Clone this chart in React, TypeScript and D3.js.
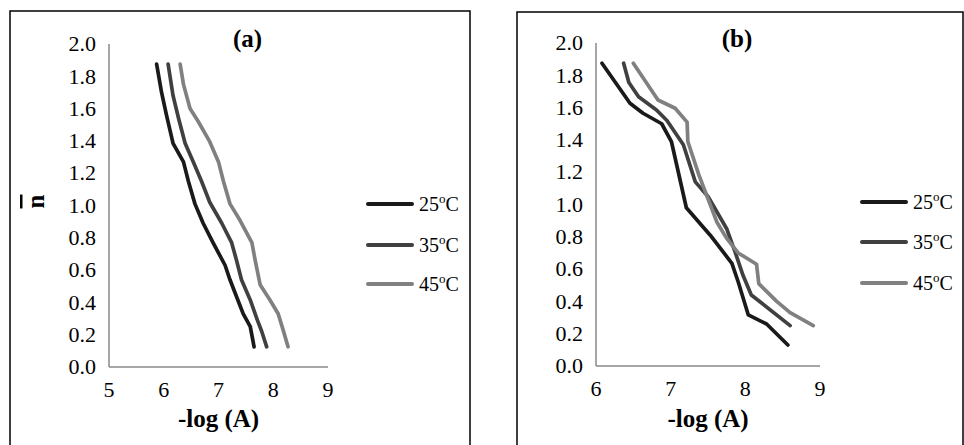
import React from "react";
import * as d3 from "d3";

const seriesNames = ["25", "35", "45"];
const seriesColors = ["#1a1a1a", "#404040", "#808080"];

const a25: [number, number][] = [[5.87,1.875],[5.96,1.70],[6.05,1.56],[6.17,1.385],[6.36,1.27],[6.45,1.15],[6.57,1.01],[6.72,0.89],[6.90,0.77],[7.12,0.63],[7.21,0.54],[7.33,0.435],[7.45,0.33],[7.58,0.25],[7.65,0.125]];
const a35: [number, number][] = [[6.08,1.875],[6.17,1.68],[6.27,1.54],[6.39,1.385],[6.54,1.27],[6.69,1.15],[6.84,1.02],[7.06,0.89],[7.24,0.77],[7.33,0.66],[7.42,0.54],[7.58,0.415],[7.71,0.29],[7.79,0.22],[7.88,0.125]];
const a45: [number, number][] = [[6.30,1.875],[6.36,1.75],[6.48,1.60],[6.63,1.52],[6.84,1.395],[7.00,1.27],[7.09,1.15],[7.21,1.01],[7.39,0.91],[7.61,0.77],[7.67,0.66],[7.76,0.51],[7.94,0.415],[8.09,0.33],[8.18,0.23],[8.27,0.125]];
const b25: [number, number][] = [[6.08,1.875],[6.455,1.627],[6.63,1.565],[6.88,1.50],[7.01,1.39],[7.21,0.98],[7.53,0.81],[7.82,0.636],[7.905,0.52],[8.04,0.316],[8.285,0.26],[8.57,0.13]];
const b35: [number, number][] = [[6.37,1.875],[6.44,1.755],[6.57,1.667],[6.81,1.585],[6.95,1.52],[7.17,1.37],[7.33,1.14],[7.50,1.05],[7.75,0.85],[7.86,0.71],[7.97,0.56],[8.08,0.44],[8.60,0.25]];
const b45: [number, number][] = [[6.50,1.875],[6.83,1.647],[7.06,1.596],[7.22,1.51],[7.23,1.39],[7.38,1.18],[7.62,0.89],[7.75,0.79],[7.905,0.70],[8.15,0.63],[8.18,0.51],[8.42,0.40],[8.60,0.33],[8.91,0.25]];

const yTicks = [0, 0.2, 0.4, 0.6, 0.8, 1.0, 1.2, 1.4, 1.6, 1.8, 2.0];
const xTicksA = [5, 6, 7, 8, 9];
const xTicksB = [6, 7, 8, 9];

const FONT = "Liberation Serif, Times New Roman, DejaVu Serif, serif";
const fs = (size: number, bold = false) => ({ fontFamily: FONT, fontSize: size + "px", fontWeight: bold ? 700 : 400 });

type PanelProps = {
  box: [number, number, number, number];
  xDomain: [number, number];
  xRange: [number, number];
  yRange: [number, number];
  xTicks: number[];
  series: [number, number][][];
  title: string;
  legendX: number;
  legendY: number[];
  showYTitle: boolean;
};

function Panel(p: PanelProps) {
  const x = d3.scaleLinear().domain(p.xDomain).range(p.xRange);
  const y = d3.scaleLinear().domain([0, 2]).range(p.yRange);
  const line = d3.line<[number, number]>().x(d => x(d[0])).y(d => y(d[1]));
  const cx = (p.xRange[0] + p.xRange[1]) / 2;
  return (
    <g>
      <rect x={p.box[0]} y={p.box[1]} width={p.box[2]} height={p.box[3]} fill="none" stroke="#000" strokeWidth={1.5} />
      <line x1={x.range()[0]} x2={x.range()[1]} y1={y(0)} y2={y(0)} stroke="#898989" strokeWidth={1.5} />
      <line x1={x.range()[0]} x2={x.range()[0]} y1={y(0)} y2={y(2)} stroke="#898989" strokeWidth={1.5} />
      {yTicks.map(t => (
        <text key={t} x={x.range()[0] - 13} y={y(t)} dy="0.33em" textAnchor="end" style={fs(22)} fill="#000">
          {t.toFixed(1)}
        </text>
      ))}
      {p.xTicks.map(t => (
        <text key={t} x={x(t)} y={y(0) + 30} textAnchor="middle" style={fs(22)} fill="#000">
          {t}
        </text>
      ))}
      {p.series.map((s, i) => (
        <path key={i} d={line(s) || ""} fill="none" stroke={seriesColors[i]} strokeWidth={3.7} strokeLinejoin="round" strokeLinecap="round" />
      ))}
      <text x={cx + 29} y={47} textAnchor="middle" style={fs(25, true)}>{p.title}</text>
      <text x={cx} y={427} textAnchor="middle" style={fs(25, true)}>-log (A)</text>
      {p.showYTitle && (
        <text transform={`translate(${44},${y(1) - 4}) rotate(-90)`} textAnchor="middle" style={fs(25, true)} textDecoration="overline">n</text>
      )}
      {seriesNames.map((n, i) => (
        <g key={n}>
          <line x1={p.legendX} x2={p.legendX + 44} y1={p.legendY[i]} y2={p.legendY[i]} stroke={seriesColors[i]} strokeWidth={4} strokeLinecap="round" />
          <text x={p.legendX + 51} y={p.legendY[i] + 7} style={fs(20)} fill="#000">
            {n}<tspan dy={-8} style={{ fontSize: "13px" }}>o</tspan><tspan dy={8}>C</tspan>
          </text>
        </g>
      ))}
    </g>
  );
}

export default function App() {
  return (
    <svg width={964} height={445} style={{ position: "absolute", left: 0, top: 0, background: "#fff" }}>
      <rect x={0} y={0} width={964} height={445} fill="#fff" />
      <Panel box={[10, 11, 460, 440]} xDomain={[5, 9]} xRange={[109, 328]} yRange={[367, 44]} xTicks={xTicksA}
        series={[a25, a35, a45]} title="(a)" legendX={368} legendY={[204, 245, 284]} showYTitle={true} />
      <Panel box={[517, 12, 446, 440]} xDomain={[6, 9]} xRange={[596, 820]} yRange={[366, 43]} xTicks={xTicksB}
        series={[b25, b35, b45]} title="(b)" legendX={862} legendY={[202, 242, 283]} showYTitle={false} />
    </svg>
  );
}
